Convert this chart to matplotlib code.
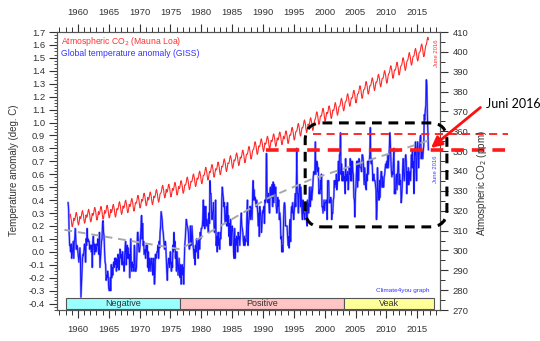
import numpy as np
import matplotlib
matplotlib.use('Agg')
import matplotlib.pyplot as plt
from matplotlib.patches import FancyBboxPatch, Rectangle
from matplotlib.ticker import MultipleLocator

plt.rcParams['font.family'] = ['Liberation Sans', 'DejaVu Sans']

# Mauna Loa CO2, annual means (ppm)
co2_years = list(range(1958, 2017))
co2_annual = [315.2, 316.0, 316.9, 317.6, 318.5, 319.0, 319.6, 320.0, 321.4, 322.2,
              323.0, 324.6, 325.7, 326.3, 327.5, 329.7, 330.2, 331.1, 332.0, 333.8,
              335.4, 336.8, 338.7, 340.1, 341.4, 343.0, 344.6, 346.0, 347.4, 349.2,
              351.6, 353.1, 354.4, 355.6, 356.5, 357.1, 358.8, 360.8, 362.6, 363.7,
              366.7, 368.4, 369.7, 371.3, 373.5, 375.8, 377.5, 379.8, 381.9, 383.8,
              385.6, 387.4, 389.9, 391.6, 393.9, 396.5, 398.6, 400.8, 404.2]
# seasonal cycle around the annual mean, Jan..Dec (ppm)
co2_season = [-0.87, -0.57, 0.69, 2.43, 3.11, 1.97, 0.48, -1.90, -3.20, -2.54, -0.67, 1.02]

# GISS global temperature anomaly, monthly (deg C), Jan 1958 - Jun 2016
temp = [
    0.38, 0.33, 0.15, 0.05, 0.05, 0.00, 0.06, -0.05, -0.02, 0.03, 0.08, -0.05,   # 1958
    0.07, 0.10, 0.18, 0.10, 0.02, 0.05, 0.04, 0.00, -0.04, -0.08, -0.02, 0.03,   # 1959
    -0.05, -0.35, -0.25, -0.15, -0.06, -0.02, -0.03, 0.02, 0.06, 0.03, -0.08, 0.10,
    0.05, 0.18, 0.08, 0.10, 0.08, 0.08, 0.02, 0.05, 0.05, 0.00, 0.05, -0.12,     # 1961
    0.08, 0.12, 0.05, -0.02, 0.06, 0.05, 0.00, 0.02, 0.06, 0.05, 0.10, 0.00,
    -0.02, 0.15, -0.12, -0.05, 0.03, 0.08, 0.10, 0.22, 0.24, 0.15, 0.12, 0.00,   # 1963
    -0.08, -0.10, -0.22, -0.18, -0.20, -0.15, -0.18, -0.28, -0.30, -0.29, -0.20, -0.30,
    -0.10, -0.20, -0.12, -0.18, -0.10, -0.08, -0.12, -0.05, -0.10, -0.05, -0.15, -0.06,
    -0.12, -0.02, -0.05, -0.14, -0.08, 0.02, 0.00, -0.05, -0.02, -0.10, 0.00, -0.08,
    -0.08, -0.15, -0.03, 0.02, 0.08, -0.10, 0.00, 0.05, -0.05, 0.03, -0.05, -0.02,
    -0.20, -0.05, 0.10, -0.12, -0.15, -0.08, -0.12, -0.10, -0.15, 0.05, -0.05, -0.15,
    -0.15, -0.12, 0.00, 0.15, 0.15, 0.05, 0.00, 0.00, 0.05, 0.12, 0.20, 0.28,    # 1969
    0.10, 0.22, 0.05, 0.08, -0.02, 0.00, 0.02, -0.05, 0.05, 0.00, 0.05, -0.12,
    0.00, -0.15, -0.12, -0.05, -0.08, -0.15, -0.08, -0.05, -0.10, -0.18, -0.08, -0.05,
    -0.25, -0.18, -0.02, -0.05, -0.03, 0.00, 0.00, 0.05, -0.05, 0.08, 0.03, 0.15,
    0.20, 0.31, 0.28, 0.25, 0.18, 0.15, 0.10, 0.05, 0.02, 0.08, 0.05, -0.05,     # 1973
    -0.15, -0.22, -0.10, -0.08, -0.05, -0.12, -0.08, 0.00, -0.10, -0.15, -0.08, -0.12,
    0.05, 0.00, 0.15, 0.02, 0.08, -0.05, 0.00, -0.15, 0.00, -0.10, -0.18, -0.12,
    -0.05, -0.18, -0.20, -0.10, -0.25, -0.15, -0.10, -0.18, -0.12, -0.25, -0.08, 0.05,
    0.10, 0.18, 0.25, 0.22, 0.20, 0.18, 0.15, 0.05, 0.02, 0.05, 0.20, 0.05,      # 1977
    0.08, 0.20, 0.12, 0.05, 0.02, -0.05, 0.02, -0.10, 0.05, 0.00, 0.10, 0.08,
    0.05, -0.05, 0.10, 0.05, 0.02, 0.15, 0.10, 0.18, 0.18, 0.20, 0.25, 0.40,
    0.20, 0.35, 0.18, 0.30, 0.35, 0.20, 0.25, 0.22, 0.18, 0.15, 0.30, 0.22,      # 1980
    0.55, 0.45, 0.45, 0.32, 0.25, 0.30, 0.32, 0.38, 0.20, 0.15, 0.20, 0.40,
    0.05, 0.12, 0.00, 0.10, 0.15, 0.05, 0.10, 0.02, 0.15, 0.10, 0.18, 0.40,
    0.50, 0.45, 0.42, 0.35, 0.38, 0.25, 0.22, 0.30, 0.35, 0.20, 0.38, 0.20,      # 1983
    0.28, 0.12, 0.22, 0.05, 0.25, 0.05, 0.15, 0.20, 0.18, 0.12, 0.00, -0.05,
    0.18, -0.05, 0.10, 0.05, 0.12, 0.10, 0.00, 0.15, 0.10, 0.12, 0.05, 0.12,
    0.25, 0.30, 0.20, 0.18, 0.15, 0.08, 0.05, 0.12, 0.05, 0.10, 0.08, 0.15,
    0.30, 0.40, 0.05, 0.20, 0.25, 0.28, 0.35, 0.25, 0.35, 0.30, 0.25, 0.45,      # 1987
    0.55, 0.40, 0.48, 0.40, 0.42, 0.38, 0.35, 0.40, 0.35, 0.30, 0.20, 0.30,
    0.12, 0.35, 0.30, 0.28, 0.15, 0.20, 0.30, 0.32, 0.30, 0.35, 0.22, 0.40,
    0.38, 0.40, 0.76, 0.50, 0.40, 0.38, 0.45, 0.35, 0.30, 0.48, 0.50, 0.42,      # 1990
    0.42, 0.52, 0.35, 0.54, 0.38, 0.52, 0.48, 0.45, 0.50, 0.35, 0.30, 0.32,
    0.42, 0.35, 0.40, 0.25, 0.30, 0.25, 0.10, 0.12, 0.00, 0.05, 0.00, 0.20,
    0.35, 0.38, 0.35, 0.20, 0.20, 0.20, 0.20, 0.12, 0.05, 0.12, 0.03, 0.20,
    0.25, 0.08, 0.30, 0.35, 0.30, 0.38, 0.30, 0.25, 0.32, 0.40, 0.45, 0.35,      # 1994
    0.50, 0.80, 0.45, 0.45, 0.30, 0.45, 0.50, 0.52, 0.35, 0.50, 0.40, 0.30,
    0.25, 0.40, 0.30, 0.30, 0.25, 0.30, 0.35, 0.38, 0.25, 0.20, 0.40, 0.35,
    0.30, 0.40, 0.50, 0.35, 0.40, 0.50, 0.40, 0.45, 0.50, 0.58, 0.62, 0.60,
    0.60, 0.85, 0.60, 0.65, 0.70, 0.68, 0.62, 0.65, 0.45, 0.48, 0.45, 0.55,      # 1998
    0.48, 0.60, 0.35, 0.35, 0.30, 0.35, 0.40, 0.32, 0.38, 0.38, 0.40, 0.40,
    0.25, 0.55, 0.55, 0.55, 0.38, 0.40, 0.38, 0.42, 0.40, 0.25, 0.30, 0.30,
    0.40, 0.42, 0.55, 0.50, 0.55, 0.52, 0.60, 0.48, 0.55, 0.55, 0.70, 0.55,
    0.75, 0.75, 0.92, 0.60, 0.68, 0.55, 0.62, 0.55, 0.62, 0.55, 0.58, 0.45,      # 2002
    0.72, 0.55, 0.60, 0.55, 0.62, 0.48, 0.55, 0.65, 0.60, 0.72, 0.55, 0.70,
    0.55, 0.70, 0.62, 0.60, 0.42, 0.40, 0.27, 0.45, 0.50, 0.62, 0.70, 0.50,
    0.70, 0.55, 0.72, 0.70, 0.65, 0.65, 0.65, 0.62, 0.75, 0.75, 0.72, 0.65,      # 2005
    0.52, 0.65, 0.58, 0.50, 0.48, 0.60, 0.55, 0.70, 0.60, 0.70, 0.70, 0.75,
    0.96, 0.70, 0.68, 0.72, 0.65, 0.55, 0.58, 0.60, 0.55, 0.55, 0.52, 0.48,
    0.25, 0.32, 0.65, 0.48, 0.45, 0.40, 0.55, 0.42, 0.55, 0.62, 0.62, 0.50,      # 2008
    0.58, 0.50, 0.50, 0.58, 0.60, 0.65, 0.68, 0.65, 0.70, 0.65, 0.75, 0.65,
    0.72, 0.80, 0.92, 0.85, 0.72, 0.62, 0.58, 0.62, 0.60, 0.72, 0.80, 0.45,
    0.48, 0.45, 0.58, 0.60, 0.48, 0.60, 0.70, 0.70, 0.52, 0.60, 0.52, 0.55,      # 2011
    0.38, 0.42, 0.50, 0.65, 0.72, 0.60, 0.55, 0.60, 0.72, 0.75, 0.70, 0.45,
    0.62, 0.52, 0.65, 0.52, 0.60, 0.62, 0.55, 0.62, 0.75, 0.65, 0.78, 0.65,
    0.70, 0.45, 0.78, 0.75, 0.85, 0.62, 0.55, 0.80, 0.85, 0.78, 0.65, 0.75,      # 2014
    0.82, 0.88, 0.90, 0.72, 0.78, 0.78, 0.72, 0.78, 0.82, 1.06, 1.02, 1.10,
    1.13, 1.33, 1.28, 1.07, 0.93, 0.79,                                          # 2016
]

# smoothed trend drawn as grey dashes
trend_years = [1957.8, 1976.6, 1991.0, 1997.8, 2016.8]
trend_vals = [0.17, 0.02, 0.42, 0.56, 0.86]

# PDO phase bar along the bottom
phase_names = ['Negative', 'Positive', 'Veak']
phase_edges = [1958.0, 1976.6, 2003.2, 2017.7]
phase_colors = ['#99ffff', '#ffc4c4', '#ffff99']

june_2016 = temp[-1]   # level of the latest month
peak_level = 0.91      # level of the earlier peaks

# monthly CO2: Mar 1958 .. Jun 2016
co2 = []
for yr, mean in zip(co2_years, co2_annual):
    first = 2 if yr == 1958 else 0
    last = 6 if yr == 2016 else 12
    for m in range(first, last):
        co2.append(mean + co2_season[m])
t_co2 = 1958.4 + (2 + np.arange(len(co2))) / 12
t_temp = 1958.4 + np.arange(len(temp)) / 12

fig = plt.figure(figsize=(5.4, 3.41), dpi=100)
ax = fig.add_axes([57/540, 31/341, 383/540, 278/341])
ax2 = ax.twinx()

ax.set_xlim(1956.6, 2018.7)
ax.set_ylim(-0.45, 1.7)
ax2.set_ylim(270, 410)

ax.set_zorder(ax2.get_zorder() + 1)
ax.patch.set_visible(False)

ax2.plot(t_co2, co2, color='#ff2a2a', lw=0.8)
ax.plot(t_temp, temp, color='#8c8cff', lw=1.5)
ax.plot(t_temp, temp, color='#1414ff', lw=0.7)
ax.plot(trend_years, trend_vals, color='#a8a8a8', lw=1.4, dashes=(4, 3))

# phase boxes
for i, name in enumerate(phase_names):
    x0, x1 = phase_edges[i], phase_edges[i + 1]
    ax.add_patch(Rectangle((x0, -0.445), x1 - x0, 0.09, facecolor=phase_colors[i],
                           edgecolor='#555555', lw=0.8, zorder=3))
    ax.text((x0 + x1) / 2, -0.40, name, ha='center', va='center', fontsize=6.5,
            color='#333333', zorder=4)

# reference levels
ax.plot([1990.5, 2030.2], [june_2016, june_2016], color='#ff1a1a', lw=2.6,
        dashes=(3.5, 2.2), clip_on=False, zorder=5)
ax.plot([1998.1, 2029.7], [peak_level, peak_level], color='#ff1a1a', lw=1.3,
        dashes=(4.5, 3), clip_on=False, zorder=5)

# rounded dashed frame around the recent period
frame = FancyBboxPatch((0.648, 0.299), 0.370, 0.374, transform=ax.transAxes,
                       boxstyle='round,pad=0,rounding_size=0.045', mutation_aspect=383/278,
                       fill=False, edgecolor='black', lw=2.2, linestyle=(0, (3.2, 2.2)),
                       clip_on=False, zorder=6)
ax.add_patch(frame)

ax.annotate('', xy=(2016.9, june_2016), xytext=(2025.6, 1.13),
            arrowprops=dict(arrowstyle='-|>', color='#ff1010', lw=2.0, mutation_scale=16),
            annotation_clip=False, zorder=7)
ax.text(2026.2, 1.14, 'Juni 2016', fontsize=9, family='Lato', ha='left', va='center',
        clip_on=False)

ax.text(2018.2, 1.535, 'June 2016', color='#ff3030', fontsize=4.2, rotation=90,
        ha='center', va='center')
ax.text(2018.0, 0.64, 'June 2016', color='#4040ff', fontsize=4.2, rotation=90,
        ha='center', va='center')
ax.text(2017.0, -0.30, 'Climate4you graph', color='#3333ff', fontsize=4.6,
        ha='right', va='center')

ax.text(1957.2, 1.63, 'Atmospheric CO$_2$ (Mauna Loa)', color='#ff3030', fontsize=6.2,
        ha='left', va='center')
ax.text(1957.2, 1.535, 'Global temperature anomaly (GISS)', color='#3333ff', fontsize=6.2,
        ha='left', va='center')

# axes and ticks
ax.xaxis.set_minor_locator(MultipleLocator(1))
ax.yaxis.set_minor_locator(MultipleLocator(0.025))
ax2.yaxis.set_major_locator(MultipleLocator(10))
ax2.yaxis.set_minor_locator(MultipleLocator(5))
ax.set_xticks(range(1960, 2016, 5))
yt = [round(v / 10, 1) for v in range(-4, 18)]
ax.set_yticks(yt)
ax.set_yticklabels(['%.1f' % v for v in yt])

ax.tick_params(axis='x', which='both', direction='out', top=True, labeltop=True,
               bottom=True, labelbottom=True, labelsize=6.8, colors='#333333', pad=5)
ax.tick_params(axis='x', which='major', length=6, width=0.8)
ax.tick_params(axis='x', which='minor', length=3.5, width=0.7)
ax.tick_params(axis='y', which='both', direction='out', labelsize=6.8, colors='#333333', pad=2.5)
ax.tick_params(axis='y', which='major', length=6, width=0.8)
ax.tick_params(axis='y', which='minor', length=2.5, width=0.6)
ax2.tick_params(axis='y', which='both', direction='out', labelsize=6.8, colors='#333333', pad=3)
ax2.tick_params(axis='y', which='major', length=6, width=0.8)
ax2.tick_params(axis='y', which='minor', length=3.5, width=0.7)
for a in (ax, ax2):
    for s in a.spines.values():
        s.set_color('#555555')
        s.set_linewidth(0.8)

fig.text(14/540, 1 - 170/341, 'Temperature anomaly (deg. C)', rotation=90, fontsize=7,
         color='#333333', ha='center', va='center')
fig.text(482/540, 1 - 183/341, 'Atmospheric CO$_2$ (ppm)', rotation=90, fontsize=7,
         color='#333333', ha='center', va='center')

fig.savefig('out.png', dpi=100)
